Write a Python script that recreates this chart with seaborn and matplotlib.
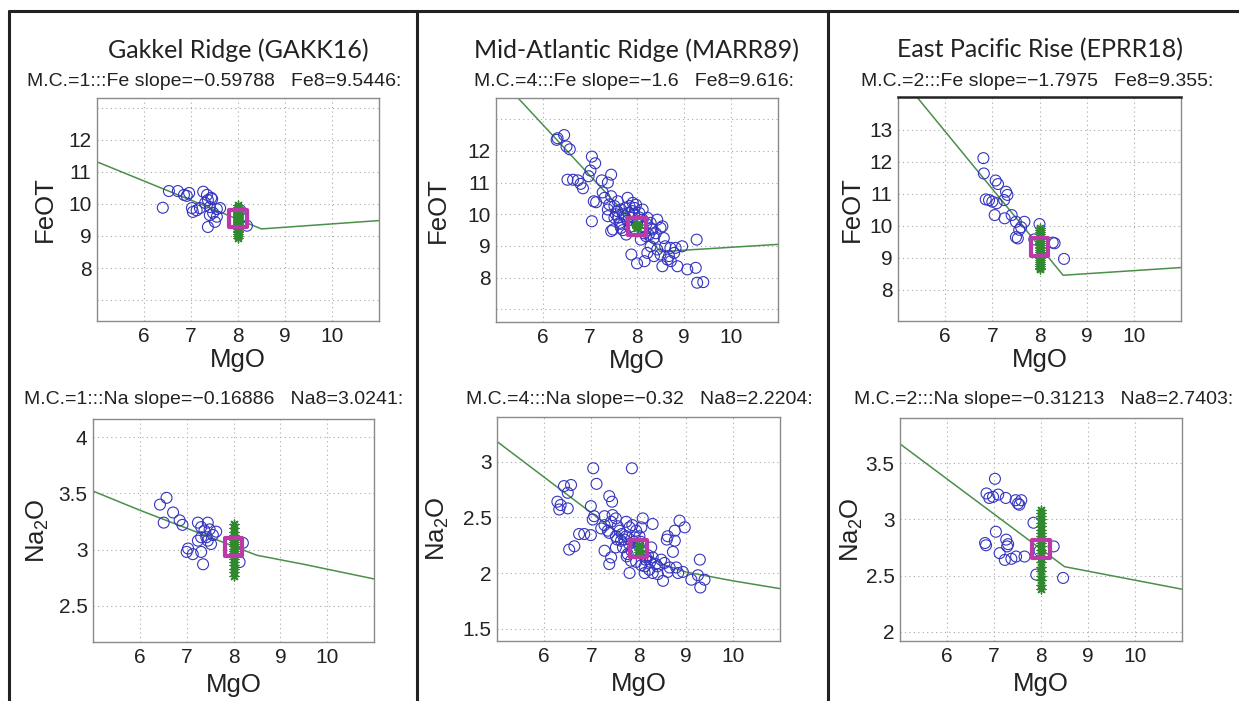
import numpy as np
import pandas as pd
import matplotlib
matplotlib.use("Agg")
import matplotlib.pyplot as plt
import seaborn as sns
from matplotlib.lines import Line2D

# ---------------- data ----------------
titles = ["Gakkel Ridge (GAKK16)", "Mid-Atlantic Ridge (MARR89)", "East Pacific Rise (EPRR18)"]
fe_subtitles = ["M.C.=1:::Fe slope=\u22120.59788   Fe8=9.5446:",
                "M.C.=4:::Fe slope=\u22121.6   Fe8=9.616:",
                "M.C.=2:::Fe slope=\u22121.7975   Fe8=9.355:"]
na_subtitles = ["M.C.=1:::Na slope=\u22120.16886   Na8=3.0241:",
                "M.C.=4:::Na slope=\u22120.32   Na8=2.2204:",
                "M.C.=2:::Na slope=\u22120.31213   Na8=2.7403:"]
fe8_values = [9.5446, 9.616, 9.355]
na8_values = [3.0241, 2.2204, 2.7403]

# Gakkel FeOT
gak_fe_mgo = [6.40, 6.53, 6.72, 6.85, 6.91, 6.96, 7.02, 7.04, 7.12, 7.19, 7.26, 7.30, 7.34, 7.36,
              7.36, 7.40, 7.43, 7.45, 7.47, 7.51, 7.55, 7.55, 7.62, 7.40, 8.19, 8.10, 8.05]
gak_fe = [9.88, 10.40, 10.40, 10.28, 10.25, 10.34, 9.87, 9.75, 9.80, 9.87, 10.38, 10.03, 10.28, 10.12,
          9.28, 9.90, 10.19, 10.15, 9.72, 9.44, 9.84, 9.60, 9.87, 9.65, 9.32, 9.60, 9.80]
gak_fe_mc = [8.93, 8.99, 9.06, 9.12, 9.17, 9.22, 9.27, 9.31, 9.36, 9.39, 9.43, 9.46, 9.49, 9.52,
             9.55, 9.58, 9.61, 9.64, 9.67, 9.71, 9.75, 9.80, 9.85, 9.90, 9.95]
gak_fe_line_mgo = [5.0, 8.5, 11.0]
gak_fe_line = [11.31, 9.22, 9.48]

# MAR FeOT
mar_fe_mgo = [6.31, 6.45, 6.29, 6.50, 6.57, 7.04, 7.11, 7.01, 6.97, 6.52, 6.64, 6.74, 6.80, 6.85,
              7.45, 7.25, 7.38, 7.08, 7.13, 7.04, 7.27, 7.31, 7.45, 7.41, 7.38, 7.52, 7.59, 7.66,
              7.80, 7.84, 7.91, 7.73, 7.52, 7.38, 7.63, 7.49, 7.45, 7.66, 7.77, 7.94, 8.05, 8.12,
              8.22, 8.29, 8.33, 8.43, 8.54, 8.50, 8.19, 8.08, 8.36, 8.29, 8.57, 8.60, 8.71, 8.82,
              8.96, 9.27, 7.88, 8.00, 8.16, 8.36, 8.50, 8.54, 8.65, 8.72, 8.68, 8.86, 9.07, 9.25,
              9.28, 9.41, 8.79, 8.43, 8.22, 7.70, 7.80, 7.90, 8.00, 8.10, 7.60, 7.75, 7.95, 8.05,
              8.20, 7.85, 7.65, 8.15, 7.90, 8.30, 7.55, 8.25, 8.40, 7.70, 7.58, 7.98, 8.12, 7.82]
mar_fe = [12.40, 12.50, 12.35, 12.14, 12.05, 11.82, 11.61, 11.38, 11.20, 11.09, 11.09, 11.07, 10.96, 10.82,
          11.25, 11.07, 11.00, 10.41, 10.38, 9.78, 10.69, 10.52, 10.57, 10.31, 10.15, 10.26, 10.41, 10.15,
          10.52, 10.26, 10.36, 9.94, 9.89, 9.94, 9.73, 9.52, 9.47, 9.57, 9.36, 10.00, 10.04, 9.83,
          9.89, 9.73, 9.52, 9.83, 9.62, 9.57, 9.31, 9.20, 9.25, 8.99, 9.25, 8.99, 8.94, 8.94,
          8.99, 9.20, 8.73, 8.45, 8.52, 8.68, 8.73, 8.36, 8.57, 8.52, 8.68, 8.36, 8.26, 8.31,
          7.84, 7.86, 8.78, 8.89, 8.78, 10.00, 9.80, 9.90, 9.70, 9.60, 9.90, 10.20, 10.20, 9.90,
          9.70, 9.60, 9.70, 9.40, 10.10, 9.55, 10.00, 9.35, 9.40, 9.50, 10.10, 10.30, 10.15, 10.05]
mar_fe_mc = [9.56, 9.59, 9.62, 9.65, 9.68]
mar_fe_line_mgo = [5.0, 8.5, 11.0]
mar_fe_line = [14.42, 8.82, 9.05]

# EPR FeOT
epr_fe_mgo = [6.81, 6.82, 7.07, 7.12, 7.29, 7.32, 7.25, 6.86, 6.93, 7.00, 7.09, 7.05, 7.26, 7.41,
              7.50, 7.68, 7.61, 7.57, 7.50, 7.54, 8.00, 7.89, 8.28, 8.32, 8.52]
epr_fe = [12.12, 11.64, 11.42, 11.31, 11.07, 10.97, 10.81, 10.83, 10.81, 10.76, 10.71, 10.34, 10.24, 10.34,
          10.13, 10.13, 9.96, 9.88, 9.65, 9.61, 10.06, 9.58, 9.48, 9.46, 8.97]
epr_fe_mc = [8.65, 8.70, 8.76, 8.82, 8.88, 8.95, 9.01, 9.07, 9.13, 9.19, 9.24, 9.30, 9.35, 9.41,
             9.47, 9.52, 9.58, 9.64, 9.70, 9.76, 9.82, 9.88, 9.94]
epr_fe_line_mgo = [5.0, 8.5, 11.0]
epr_fe_line = [14.75, 8.46, 8.70]

# Gakkel Na2O
gak_na_mgo = [6.57, 6.43, 6.71, 6.51, 6.85, 6.91, 7.03, 7.00, 7.13, 7.31, 7.35, 7.24, 7.31, 7.38,
              7.45, 7.49, 7.56, 7.63, 7.24, 7.31, 7.45, 7.52, 7.42, 8.20, 8.13]
gak_na = [3.46, 3.40, 3.33, 3.24, 3.26, 3.22, 3.01, 2.98, 2.96, 2.98, 2.87, 3.24, 3.20, 3.17,
          3.24, 3.18, 3.13, 3.16, 3.08, 3.11, 3.08, 3.05, 3.11, 3.06, 2.89]
gak_na_mc = [2.77, 2.80, 2.83, 2.86, 2.89, 2.92, 2.95, 2.97, 2.99, 3.01, 3.03, 3.05, 3.07, 3.09,
             3.11, 3.13, 3.16, 3.19, 3.23]
gak_na_line_mgo = [5.0, 6.0, 7.0, 8.0, 8.5, 9.5, 11.0]
gak_na_line = [3.52, 3.35, 3.19, 3.03, 2.95, 2.87, 2.74]

# MAR Na2O
mar_na_mgo = [7.04, 7.86, 6.42, 6.57, 6.50, 7.11, 6.28, 6.35, 6.32, 6.50, 7.38, 7.44, 6.99, 7.03,
              7.06, 7.28, 7.45, 7.52, 7.74, 7.28, 7.42, 7.21, 7.35, 7.56, 7.60, 7.81, 7.87, 7.95,
              8.09, 8.06, 8.02, 7.92, 7.74, 7.63, 7.52, 7.38, 6.74, 6.85, 6.99, 6.64, 6.53, 7.28,
              7.42, 7.38, 7.52, 7.67, 7.77, 7.84, 7.95, 8.06, 8.16, 8.27, 8.30, 8.30, 8.37, 8.48,
              8.55, 8.62, 8.60, 8.77, 8.77, 8.87, 8.98, 8.73, 8.66, 8.80, 8.94, 8.23, 8.13, 7.81,
              8.13, 8.30, 8.52, 8.41, 8.62, 8.84, 9.12, 9.26, 9.30, 9.40, 9.31, 7.70, 7.80, 7.90,
              8.00, 8.10, 8.20, 7.65, 7.85, 8.05, 8.25, 8.40, 7.55, 7.75, 8.15]
mar_na = [2.94, 2.94, 2.78, 2.79, 2.72, 2.80, 2.64, 2.61, 2.57, 2.58, 2.69, 2.64, 2.60, 2.48,
          2.51, 2.51, 2.52, 2.49, 2.46, 2.43, 2.46, 2.40, 2.38, 2.42, 2.38, 2.41, 2.43, 2.38,
          2.49, 2.41, 2.33, 2.32, 2.33, 2.29, 2.33, 2.36, 2.35, 2.35, 2.34, 2.24, 2.21, 2.20,
          2.14, 2.08, 2.23, 2.23, 2.17, 2.11, 2.10, 2.07, 2.14, 2.23, 2.44, 2.14, 2.08, 2.12,
          2.09, 2.33, 2.30, 2.29, 2.38, 2.47, 2.41, 2.19, 2.05, 2.05, 2.01, 2.03, 2.00, 2.00,
          2.06, 2.00, 1.93, 1.99, 2.01, 2.00, 1.94, 1.98, 2.12, 1.94, 1.87, 2.30, 2.26, 2.28,
          2.25, 2.18, 2.16, 2.35, 2.20, 2.28, 2.10, 2.06, 2.30, 2.15, 2.12]
mar_na_mc = [2.19, 2.21, 2.23, 2.25]
mar_na_line_mgo = [5.0, 6.0, 7.0, 8.0, 8.5, 9.0, 10.0, 11.0]
mar_na_line = [3.18, 2.86, 2.54, 2.22, 2.08, 2.01, 1.93, 1.86]

# EPR Na2O
epr_na_mgo = [7.02, 6.84, 6.90, 6.98, 7.09, 7.25, 7.46, 7.51, 7.58, 7.54, 7.84, 7.04, 6.81, 6.83,
              7.26, 7.30, 7.28, 7.12, 7.23, 7.37, 7.47, 7.65, 7.97, 8.27, 7.90, 8.47]
epr_na = [3.36, 3.23, 3.19, 3.20, 3.22, 3.19, 3.17, 3.14, 3.17, 3.13, 2.97, 2.89, 2.79, 2.77,
          2.82, 2.78, 2.76, 2.70, 2.64, 2.65, 2.67, 2.67, 2.72, 2.76, 2.51, 2.48]
epr_na_mc = [2.38, 2.42, 2.46, 2.50, 2.54, 2.58, 2.62, 2.66, 2.70, 2.73, 2.76, 2.79, 2.82, 2.85,
             2.88, 2.91, 2.94, 2.97, 3.00, 3.03, 3.06, 3.08]
epr_na_line_mgo = [5.0, 8.5, 11.0]
epr_na_line = [3.67, 2.58, 2.38]

x_ticks = [6, 7, 8, 9, 10]
x_ticklabels = ["6", "7", "8", "9", "10"]
fe_yticks = [[7, 8, 9, 10, 11, 12, 13], [7, 8, 9, 10, 11, 12, 13], [8, 9, 10, 11, 12, 13]]
fe_yticklabels = [["", "8", "9", "10", "11", "12", ""], ["", "8", "9", "10", "11", "12", ""],
                  ["8", "9", "10", "11", "12", "13"]]
na_yticks = [[2.5, 3, 3.5, 4], [1.5, 2, 2.5, 3], [2, 2.5, 3, 3.5]]
na_yticklabels = [["2.5", "3", "3.5", "4"], ["1.5", "2", "2.5", "3"], ["2", "2.5", "3", "3.5"]]
fe_ylims = [(6.35, 13.3), (6.6, 13.67), (7.03, 14.03)]
na_ylims = [(2.18, 4.16), (1.39, 3.4), (1.92, 3.9)]

# ---------------- style ----------------
sns.set_theme(style="white")
plt.rcParams["font.family"] = ["Liberation Sans", "DejaVu Sans"]
plt.rcParams["mathtext.fontset"] = "custom"
plt.rcParams["mathtext.rm"] = "Liberation Sans"
plt.rcParams["mathtext.it"] = "Liberation Sans"

W, H = 1239, 701
fig = plt.figure(figsize=(W / 100, H / 100), dpi=100)
fig.patch.set_facecolor("white")

def rect(l, r, t, b):
    return [l / W, 1 - b / H, (r - l) / W, (b - t) / H]

top_px = [(97, 379, 98, 321), (496, 778, 98, 322), (898, 1181, 97, 321)]
bot_px = [(93, 374, 419, 642), (497, 780, 417, 641), (900, 1182, 418, 641)]

BLUE = "#3535c0"
GREEN_LINE = "#4a8f4a"
GREEN_STAR = "#2f8a2f"
MAGENTA = "#bb3aa8"

fe_sets = [(gak_fe_mgo, gak_fe, gak_fe_mc, gak_fe_line_mgo, gak_fe_line),
           (mar_fe_mgo, mar_fe, mar_fe_mc, mar_fe_line_mgo, mar_fe_line),
           (epr_fe_mgo, epr_fe, epr_fe_mc, epr_fe_line_mgo, epr_fe_line)]
na_sets = [(gak_na_mgo, gak_na, gak_na_mc, gak_na_line_mgo, gak_na_line),
           (mar_na_mgo, mar_na, mar_na_mc, mar_na_line_mgo, mar_na_line),
           (epr_na_mgo, epr_na, epr_na_mc, epr_na_line_mgo, epr_na_line)]

title_cx = [238, 637, 1040]
fe_sub_cx = [214, 634, 1037]
na_sub_cx = [214, 639, 1044]
fe_ylab_cx = [45, 438, 852]
na_ylab_cx = [38, 438, 852]

def draw_panel(ax, px, data, ylim, yticks, yticklabels, ylabel, center_val, ylab_cx, xlab_off):
    mgo, vals, mc, lx, ly = data
    df = pd.DataFrame({"MgO": mgo, "val": vals})
    dl = pd.DataFrame({"MgO": lx, "val": ly})
    dm = pd.DataFrame({"MgO": [8.0] * len(mc), "val": mc})
    dc = pd.DataFrame({"MgO": [8.0], "val": [center_val]})
    ax.set_axisbelow(True)
    ax.grid(True, color="#a8a8a8", linestyle=(0, (1, 3)), linewidth=0.8)
    sns.lineplot(data=dl, x="MgO", y="val", ax=ax, color=GREEN_LINE, linewidth=1.1, sort=False,
                 estimator=None, zorder=2)
    sns.scatterplot(data=df, x="MgO", y="val", ax=ax, marker="o", s=62, facecolors="none",
                    edgecolor=BLUE, linewidth=0.8, zorder=3)
    sns.scatterplot(data=dm, x="MgO", y="val", ax=ax, marker=(8, 2, 0), s=40, color=GREEN_STAR,
                    edgecolor=GREEN_STAR, linewidth=1.0, zorder=4)
    sns.scatterplot(data=dc, x="MgO", y="val", ax=ax, marker="s", s=165, facecolors="none",
                    edgecolor=MAGENTA, linewidth=3.0, zorder=5)
    ax.set_xlim(5, 11)
    ax.set_ylim(*ylim)
    ax.set_xticks(x_ticks)
    ax.set_xticklabels(x_ticklabels)
    ax.set_yticks(yticks)
    ax.set_yticklabels(yticklabels)
    ax.tick_params(axis="both", labelsize=15, length=3, direction="in", color="#808080",
                   labelcolor="#222222", pad=4)
    for s in ax.spines.values():
        s.set_color("#8a8a8a")
        s.set_linewidth(1.0)
    l, r, t, b = px
    wpx, hpx = r - l, b - t
    ax.set_xlabel("MgO", fontsize=18.5, color="#222222", va="center")
    ax.xaxis.set_label_coords(0.5, -xlab_off / hpx)
    ax.set_ylabel(ylabel, fontsize=18.5, color="#222222", va="center")
    ax.yaxis.set_label_coords((ylab_cx - l) / wpx, 0.5)

for i in range(3):
    ax = fig.add_axes(rect(*top_px[i]))
    draw_panel(ax, top_px[i], fe_sets[i], fe_ylims[i], fe_yticks[i], fe_yticklabels[i], "FeOT",
               fe8_values[i], fe_ylab_cx[i], 39)
    if i == 2:
        ax.spines["top"].set_color("#222222")
        ax.spines["top"].set_linewidth(1.8)
    fig.text(title_cx[i] / W, 1 - 50 / H, titles[i], ha="center", va="center", fontsize=18,
             family=["Lato", "DejaVu Sans"], color="#222222")
    fig.text(fe_sub_cx[i] / W, 1 - 81 / H, fe_subtitles[i], ha="center", va="center", fontsize=14,
             color="#222222")

    ax2 = fig.add_axes(rect(*bot_px[i]))
    draw_panel(ax2, bot_px[i], na_sets[i], na_ylims[i], na_yticks[i], na_yticklabels[i], "Na$_2$O",
               na8_values[i], na_ylab_cx[i], 43)
    fig.text(na_sub_cx[i] / W, 1 - 400 / H, na_subtitles[i], ha="center", va="center", fontsize=14,
             color="#222222")

# frame lines
frame_kw = dict(color="#222222", linewidth=2.2, transform=fig.transFigure)
fig.add_artist(Line2D([9 / W, 1.0], [1 - 11 / H, 1 - 11 / H], **frame_kw))
for xx in (9, 417, 828):
    fig.add_artist(Line2D([xx / W, xx / W], [0, 1 - 11 / H], **frame_kw))

fig.savefig("out.png", dpi=100, facecolor="white")
